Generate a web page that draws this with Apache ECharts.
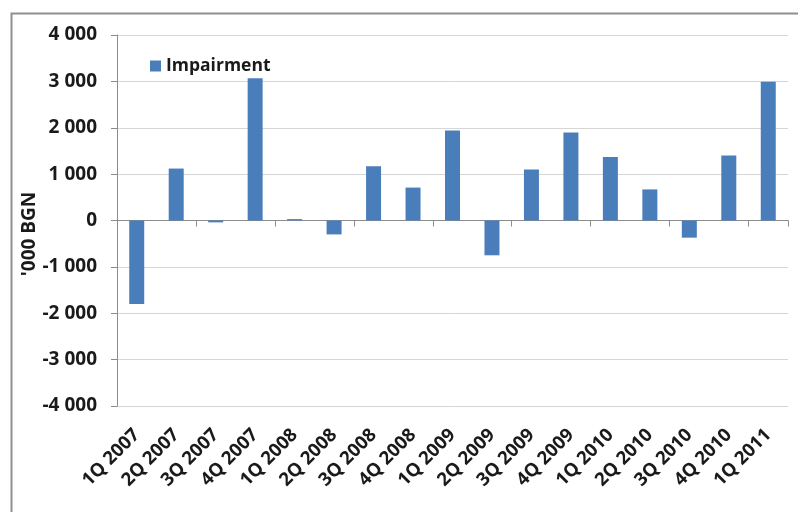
<!DOCTYPE html>
<html>
<head>
<meta charset="utf-8">
<script src="https://cdn.jsdelivr.net/npm/echarts@6/dist/echarts.min.js"></script>
<style>
  html, body { margin: 0; padding: 0; background: #ffffff; }
  #chart { width: 798px; height: 512px; }
</style>
</head>
<body>
<div id="chart"></div>
<script>
// Quarterly impairment, thousand BGN
const quarters = ['1Q 2007', '2Q 2007', '3Q 2007', '4Q 2007', '1Q 2008', '2Q 2008', '3Q 2008', '4Q 2008',
  '1Q 2009', '2Q 2009', '3Q 2009', '4Q 2009', '1Q 2010', '2Q 2010', '3Q 2010', '4Q 2010', '1Q 2011'];
const impairment = [-1800, 1120, -40, 3070, 30, -300, 1170, 710,
  1940, -750, 1100, 1900, 1370, 670, -370, 1400, 2990];
const seriesName = 'Impairment';
const yTitle = "'000 BGN";

const FONT = 'Open Sans';
const TEXT = '#1a1a1a';

function fmtThousands(v) {
  const s = Math.abs(v).toString().replace(/\B(?=(\d{3})+(?!\d))/g, ' ');
  return (v < 0 ? '-' : '') + s;
}

const chart = echarts.init(document.getElementById('chart'));
chart.setOption({
  animation: false,
  backgroundColor: '#ffffff',
  grid: { left: 117, top: 35, right: 10, bottom: 106 },
  legend: {
    data: [seriesName],
    left: 145, top: 52,
    icon: 'rect', itemWidth: 11, itemHeight: 11, itemGap: 4,
    textStyle: { fontFamily: FONT, fontWeight: 'bold', fontSize: 17.5, color: TEXT }
  },
  xAxis: [
    {
      type: 'category', data: quarters, position: 'bottom',
      axisLine: { show: false, onZero: false },
      axisTick: { show: false },
      axisLabel: {
        rotate: 45, interval: 0, margin: 26,
        fontFamily: FONT, fontWeight: 'bold', fontSize: 18.5, color: TEXT
      }
    },
    {
      type: 'category', data: quarters, position: 'bottom',
      axisLine: { show: true, onZero: true, lineStyle: { color: '#8c8c8c', width: 1 } },
      axisTick: { show: true, length: 6, lineStyle: { color: '#8c8c8c' } },
      axisLabel: { show: false }
    }
  ],
  yAxis: {
    type: 'value', min: -4000, max: 4000, interval: 1000,
    axisLine: { show: true, lineStyle: { color: '#8c8c8c', width: 1 } },
    axisTick: { show: true, length: 6, lineStyle: { color: '#8c8c8c' } },
    splitLine: { show: true, lineStyle: { color: '#d6d6d6', width: 1 } },
    axisLabel: {
      margin: 20, formatter: fmtThousands,
      fontFamily: FONT, fontWeight: 'bold', fontSize: 19, color: TEXT
    }
  },
  series: [{
    name: seriesName, type: 'bar', data: impairment,
    xAxisIndex: 0, barWidth: 15,
    itemStyle: { color: '#4a7ebb' }
  }],
  graphic: [
    {
      type: 'rect', left: 9, top: 11, silent: true,
      shape: { width: 900, height: 600 },
      style: { fill: 'none', stroke: '#8f8f8f', lineWidth: 2 }
    },
    {
      type: 'text', x: 30, y: 234, rotation: Math.PI / 2,
      style: {
        text: yTitle, fontFamily: FONT, fontWeight: 'bold', fontSize: 19,
        fill: TEXT, align: 'center', verticalAlign: 'middle'
      }
    }
  ]
});
</script>
</body>
</html>
